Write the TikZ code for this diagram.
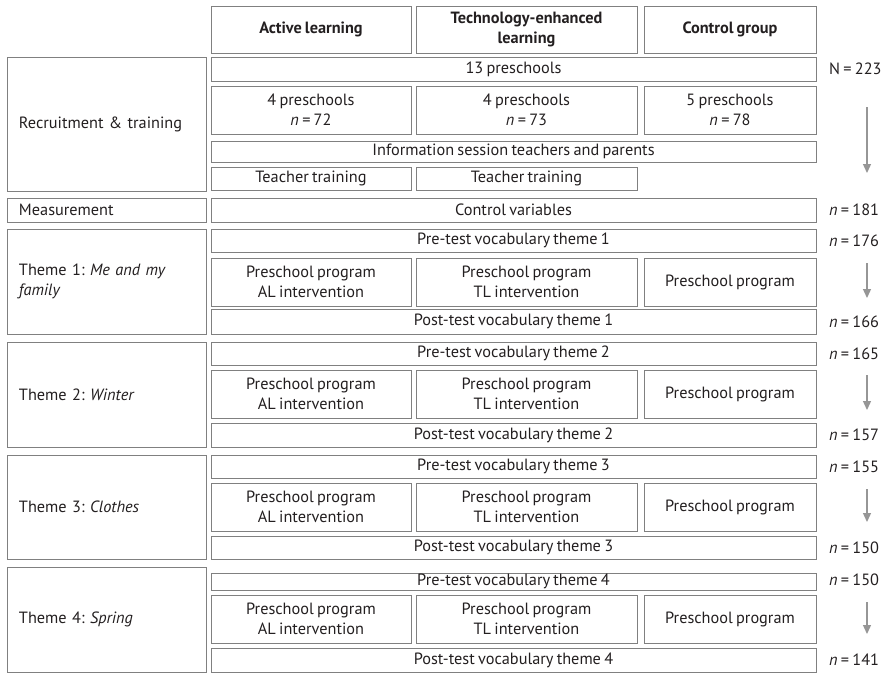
\documentclass[tikz,border=0pt]{standalone}
\usepackage{fontspec}
\setmainfont[WordSpace=0.75]{PT Sans}
\frenchspacing
\usepackage{tikz}
\usetikzlibrary{arrows.meta,positioning}
\definecolor{linegray}{RGB}{128,128,128}
\definecolor{arrowgray}{RGB}{150,150,150}
\definecolor{inkblack}{RGB}{35,31,32}
\newcommand{\cellfont}{\fontsize{16.3}{20}\selectfont}
\tikzset{
  cell/.style={
    draw=linegray,
    line width=1pt,
    inner sep=0pt,
    align=center,
    text=inkblack,
    font=\cellfont
  },
  head/.style={cell, font=\cellfont\bfseries},
  stage/.style={cell, align=left, text width=175pt, inner xsep=12pt, minimum width=199pt},
  wone/.style={minimum width=200pt},
  wtwo/.style={minimum width=221pt},
  wthree/.style={minimum width=172pt},
  wall/.style={minimum width=605pt},
  count/.style={anchor=west, text=inkblack, font=\cellfont, inner sep=0pt},
  arrow/.style={-{Triangle[length=9pt, width=8pt]}, line width=1.3pt, draw=arrowgray}
}

\begin{document}
\begin{tikzpicture}[x=1pt, y=-1pt]
  \useasboundingbox (0,0) rectangle (884,673);
  % column heads
  \node[head, wone, minimum height=47pt] (headAL) at (311,29.5) {Active learning};
  \node[head, wtwo, minimum height=47pt] (headTL) at (526.5,29.5) {Technology-enhanced\\learning};
  \node[head, wthree, minimum height=47pt] (headCG) at (730,29.5) {Control group};
  % recruitment & training
  \node[stage, minimum height=134pt] (recruit) at (106.5,124) {Recruitment \& training};
  \node[cell, wall, minimum height=24pt] (allSchools) at (513.5,69) {13 preschools};
  \node[cell, wone, minimum height=48pt] (schoolsAL) at (311,110) {4 preschools\\\textit{n} = 72};
  \node[cell, wtwo, minimum height=48pt] (schoolsTL) at (526.5,110) {4 preschools\\\textit{n} = 73};
  \node[cell, wthree, minimum height=48pt] (schoolsCG) at (730,110) {5 preschools\\\textit{n} = 78};
  \node[cell, wall, minimum height=21pt] (info) at (513.5,151.5) {Information session teachers and parents};
  \node[cell, wone, minimum height=23pt] (trainAL) at (311,178.5) {Teacher training};
  \node[cell, wtwo, minimum height=23pt] (trainTL) at (526.5,178.5) {Teacher training};
  % measurement
  \node[stage, minimum height=24pt] (measure) at (106.5,210) {Measurement};
  \node[cell, wall, minimum height=24pt] (control) at (513.5,210) {Control variables};
  % theme 1
  \node[stage, minimum height=105pt] (themeA) at (106.5,281.5) {Theme 1: \textit{Me and my}\\\textit{family}};
  \node[cell, wall, minimum height=23pt] (preA) at (513.5,240.5) {Pre-test vocabulary theme 1};
  \node[cell, wone, minimum height=48pt] (progALa) at (311,282) {Preschool program\\AL intervention};
  \node[cell, wtwo, minimum height=48pt] (progTLa) at (526.5,282) {Preschool program\\TL intervention};
  \node[cell, wthree, minimum height=48pt] (progCGa) at (730,282) {Preschool program};
  \node[cell, wall, minimum height=25pt] (postA) at (513.5,321.5) {Post-test vocabulary theme 1};
  % theme 2
  \node[stage, minimum height=105pt] (themeB) at (106.5,394.5) {Theme 2: \textit{Winter}};
  \node[cell, wall, minimum height=23pt] (preB) at (513.5,353.5) {Pre-test vocabulary theme 2};
  \node[cell, wone, minimum height=48pt] (progALb) at (311,394) {Preschool program\\AL intervention};
  \node[cell, wtwo, minimum height=48pt] (progTLb) at (526.5,394) {Preschool program\\TL intervention};
  \node[cell, wthree, minimum height=48pt] (progCGb) at (730,394) {Preschool program};
  \node[cell, wall, minimum height=24pt] (postB) at (513.5,435) {Post-test vocabulary theme 2};
  % theme 3
  \node[stage, minimum height=104pt] (themeC) at (106.5,507) {Theme 3: \textit{Clothes}};
  \node[cell, wall, minimum height=23pt] (preC) at (513.5,466.5) {Pre-test vocabulary theme 3};
  \node[cell, wone, minimum height=48pt] (progALc) at (311,507) {Preschool program\\AL intervention};
  \node[cell, wtwo, minimum height=48pt] (progTLc) at (526.5,507) {Preschool program\\TL intervention};
  \node[cell, wthree, minimum height=48pt] (progCGc) at (730,507) {Preschool program};
  \node[cell, wall, minimum height=23pt] (postC) at (513.5,547.5) {Post-test vocabulary theme 3};
  % theme 4
  \node[stage, minimum height=105pt] (themeD) at (106.5,619.5) {Theme 4: \textit{Spring}};
  \node[cell, wall, minimum height=17pt] (preD) at (513.5,581.5) {Pre-test vocabulary theme 4};
  \node[cell, wone, minimum height=48pt] (progALd) at (311,619) {Preschool program\\AL intervention};
  \node[cell, wtwo, minimum height=48pt] (progTLd) at (526.5,619) {Preschool program\\TL intervention};
  \node[cell, wthree, minimum height=48pt] (progCGd) at (730,619) {Preschool program};
  \node[cell, wall, minimum height=24pt] (postD) at (513.5,660) {Post-test vocabulary theme 4};
  % sample sizes
  \node[count] (nTotal) at (829,69) {N = 223};
  \node[count] (nControl) at (829,210) {\textit{n} = 181};
  \node[count] (nPreA) at (829,240.5) {\textit{n} = 176};
  \node[count] (nPostA) at (829,321.5) {\textit{n} = 166};
  \node[count] (nPreB) at (829,353.5) {\textit{n} = 165};
  \node[count] (nPostB) at (829,435) {\textit{n} = 157};
  \node[count] (nPreC) at (829,466.5) {\textit{n} = 155};
  \node[count] (nPostC) at (829,547.5) {\textit{n} = 150};
  \node[count] (nPreD) at (829,580) {\textit{n} = 150};
  \node[count] (nPostD) at (829,660) {\textit{n} = 141};
  % drop-out arrows
  \coordinate (dropTop) at (867,107);
  \coordinate (dropBot) at (867,173);
  \coordinate (dropAtop) at (867,263);
  \coordinate (dropAbot) at (867,298);
  \coordinate (dropBtop) at (867,375);
  \coordinate (dropBbot) at (867,410);
  \coordinate (dropCtop) at (867,489);
  \coordinate (dropCbot) at (867,522);
  \coordinate (dropDtop) at (867,602);
  \coordinate (dropDbot) at (867,634);
  \draw[arrow] (dropTop) -- (dropBot);
  \draw[arrow] (dropAtop) -- (dropAbot);
  \draw[arrow] (dropBtop) -- (dropBbot);
  \draw[arrow] (dropCtop) -- (dropCbot);
  \draw[arrow] (dropDtop) -- (dropDbot);
\end{tikzpicture}
\end{document}
